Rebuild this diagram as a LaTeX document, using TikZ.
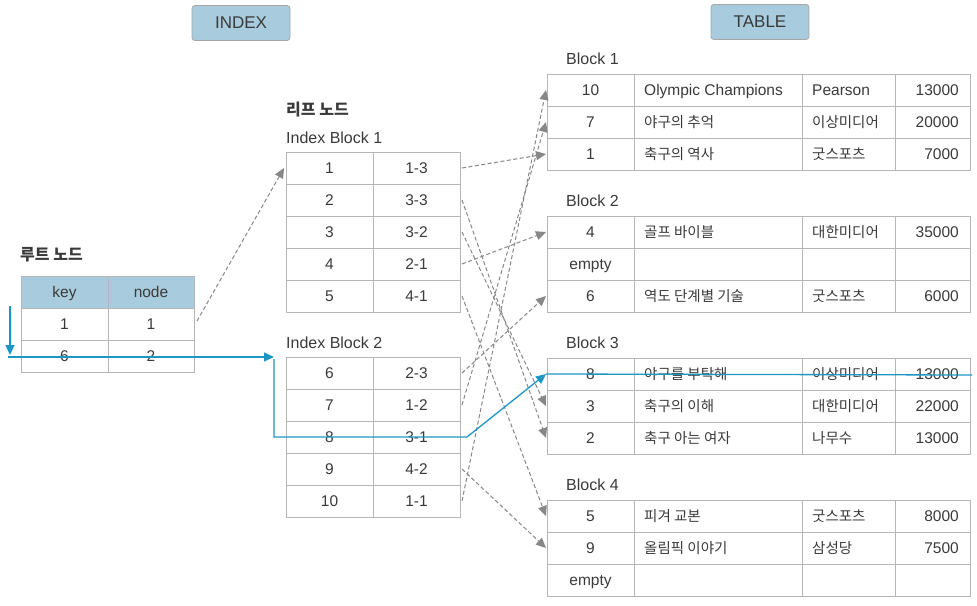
\documentclass[tikz,border=0pt]{standalone}
\usepackage{fontspec}
\setmainfont{Liberation Sans}
\newfontfamily\krfont{Noto Sans CJK KR}
\usetikzlibrary{arrows.meta}
\definecolor{gridc}{RGB}{182,182,186}
\definecolor{txtc}{RGB}{58,58,58}
\definecolor{hdrc}{RGB}{168,204,221}
\definecolor{hlc}{RGB}{28,150,196}
\definecolor{dashc}{RGB}{135,135,135}
\newcommand{\kor}[1]{{\krfont\fontsize{14.5}{17}\selectfont #1}}
\tikzset{
 cellline/.style={draw=gridc, line width=1pt},
 tx/.style={text=txtc, inner sep=0pt, font=\fontsize{15.5}{18}\selectfont, text height=11pt, text depth=0pt},
 lbl/.style={text=txtc, inner sep=0pt, font=\fontsize{16}{19}\selectfont, anchor=base west},
 klbl/.style={text=txtc, inner sep=0pt, font=\krfont\bfseries\fontsize{16}{19}\selectfont, anchor=west},
 ptr/.style={draw=dashc, line width=1pt, dash pattern=on 4pt off 2.5pt, -{Triangle[length=10pt,width=9pt]}},
 hlarrow/.style={draw=hlc, line width=1.3pt, -{Triangle[length=10pt,width=9pt]}},
 hlline/.style={draw=hlc, line width=1.3pt},
 hdrbox/.style={draw=gray!70, fill=hdrc, rounded corners=3pt, line width=0.8pt, minimum width=98pt, minimum height=35pt, text=txtc, font=\fontsize{17}{20}\selectfont, inner sep=0pt}
}
\newcommand{\tblk}[3]{%
 \node[lbl] (#3lbl) at (566,{#1-10}) {#2};
 \draw[cellline] (547,#1) rectangle (970,{#1+96});
 \draw[cellline] (547,{#1+32}) -- (970,{#1+32}) (547,{#1+64}) -- (970,{#1+64});
 \draw[cellline] (634,#1) -- (634,{#1+96}) (802,#1) -- (802,{#1+96}) (895,#1) -- (895,{#1+96});
 \coordinate (#3-1) at (546,{#1+16});
 \coordinate (#3-2) at (546,{#1+48});
 \coordinate (#3-3) at (546,{#1+80});
}
\newcommand{\trow}[6]{%
 \node[tx] (#1-k) at (590.5,#2) {#3};
 \node[tx,anchor=west] (#1-t) at (644,#2) {#4};
 \node[tx,anchor=west] (#1-p) at (812,#2) {#5};
 \node[tx,anchor=east] (#1-v) at (959,#2) {#6};
}
\begin{document}
\begin{tikzpicture}[x=1pt,y=-1pt]
\useasboundingbox (0,0) rectangle (977,605);
% headers
\node[hdrbox] (hidx) at (241,23) {INDEX};
\node[hdrbox] (htab) at (760,22) {TABLE};
% root node
\node[klbl] (rootlbl) at (20,255) {루트 노드};
\fill[hdrc] (21,276) rectangle (194,308);
\draw[cellline] (21,276) rectangle (194,372);
\draw[cellline] (21,308) -- (194,308) (21,340) -- (194,340) (108,276) -- (108,372);
\node[tx] (rk) at (64.5,292) {key};
\node[tx] (rn) at (151,292) {node};
\node[tx] (r1k) at (64.5,324) {1};
\node[tx] (r1n) at (151,324) {1};
\node[tx] (r2k) at (64.5,356) {6};
\node[tx] (r2n) at (151,356) {2};
\coordinate (R1) at (197,321);
\coordinate (IAin) at (284,168);
% index block 1
\node[klbl] (leaflbl) at (286,110) {리프 노드};
\node[lbl] (ib1lbl) at (286,143) {Index Block 1};
\draw[cellline] (286,152) rectangle (460,312);
\foreach \i in {1,...,4} \draw[cellline] (286,{152+32*\i}) -- (460,{152+32*\i});
\draw[cellline] (373,152) -- (373,312);
\foreach \k/\v [count=\i] in {1/1-3,2/3-3,3/3-2,4/2-1,5/4-1} {
 \node[tx] (ia\i-k) at (329.5,{136+32*\i}) {\k};
 \node[tx] (ia\i-v) at (416.5,{136+32*\i}) {\v};
 \coordinate (IA\i) at (462,{136+32*\i});
}
% index block 2
\node[lbl] (ib2lbl) at (286,348) {Index Block 2};
\draw[cellline] (286,357) rectangle (460,517);
\foreach \i in {1,...,4} \draw[cellline] (286,{357+32*\i}) -- (460,{357+32*\i});
\draw[cellline] (373,357) -- (373,517);
\foreach \k/\v [count=\i] in {6/2-3,7/1-2,8/3-1,9/4-2,10/1-1} {
 \node[tx] (ib\i-k) at (329.5,{341+32*\i}) {\k};
 \node[tx] (ib\i-v) at (416.5,{341+32*\i}) {\v};
 \coordinate (IB\i) at (462,{341+32*\i});
}
% table blocks
\tblk{74}{Block 1}{B1}
\trow{b1r1}{90}{10}{Olympic Champions}{Pearson}{13000}
\trow{b1r2}{122}{7}{\kor{야구의 추억}}{\kor{이상미디어}}{20000}
\trow{b1r3}{154}{1}{\kor{축구의 역사}}{\kor{굿스포츠}}{7000}
\tblk{216}{Block 2}{B2}
\trow{b2r1}{232}{4}{\kor{골프 바이블}}{\kor{대한미디어}}{35000}
\node[tx] (b2r2-k) at (590.5,264) {empty};
\trow{b2r3}{296}{6}{\kor{역도 단계별 기술}}{\kor{굿스포츠}}{6000}
\tblk{358}{Block 3}{B3}
\trow{b3r1}{374}{8}{\kor{야구를 부탁해}}{\kor{이상미디어}}{13000}
\trow{b3r2}{406}{3}{\kor{축구의 이해}}{\kor{대한미디어}}{22000}
\trow{b3r3}{438}{2}{\kor{축구 아는 여자}}{\kor{나무수}}{13000}
\tblk{500}{Block 4}{B4}
\trow{b4r1}{516}{5}{\kor{피겨 교본}}{\kor{굿스포츠}}{8000}
\trow{b4r2}{548}{9}{\kor{올림픽 이야기}}{\kor{삼성당}}{7500}
\node[tx] (b4r3-k) at (590.5,580) {empty};
% pointers
\draw[ptr] (R1) -- (IAin);
\draw[ptr] (IA1) -- (B1-3);
\draw[ptr] (IA2) -- (B3-3);
\draw[ptr] (IA3) -- (B3-2);
\draw[ptr] (IA4) -- (B2-1);
\draw[ptr] (IA5) -- (B4-1);
\draw[ptr] (IB1) -- (B2-3);
\draw[ptr] (IB2) -- (B1-2);
\draw[ptr] (IB4) -- (B4-2);
\draw[ptr] (IB5) -- (B1-1);
% highlighted search path
\coordinate (bd1) at (10,306);
\coordinate (bd2) at (10,355);
\coordinate (bh1) at (8,357);
\coordinate (bh2) at (274,357);
\coordinate (bv1) at (274,359);
\coordinate (bv2) at (274,437);
\coordinate (hlk) at (467,437);
\coordinate (hlend) at (972,375);
\draw[hlarrow] (bd1) -- (bd2);
\draw[hlarrow] (bh1) -- (bh2);
\draw[hlarrow] (bv1) -- (bv2) -- (hlk) -- (B3-1);
\draw[hlline] (B3-1) -- (hlend);
\end{tikzpicture}
\end{document}
